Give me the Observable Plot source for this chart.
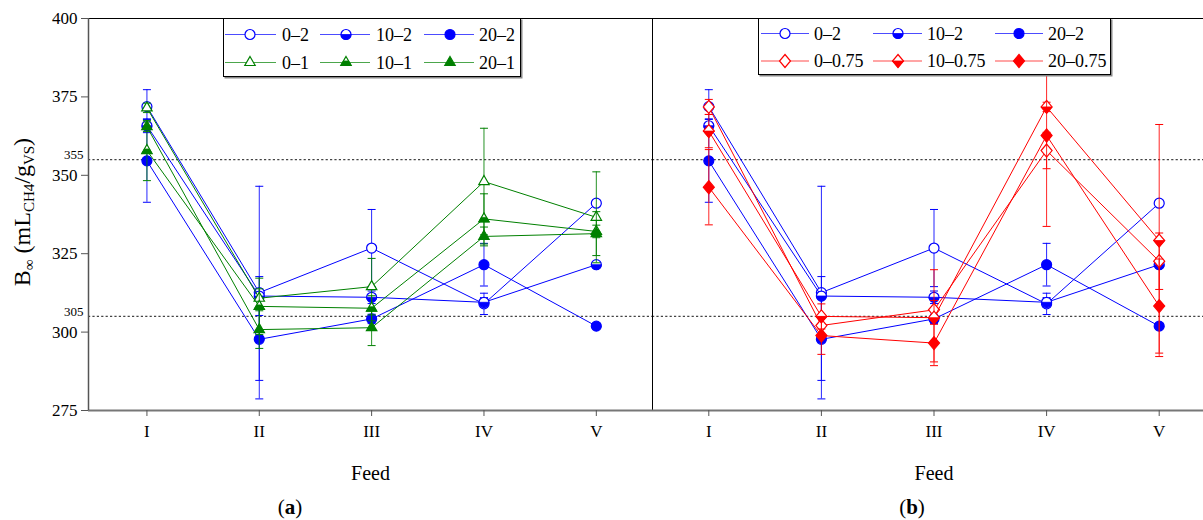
<!DOCTYPE html>
<html><head><meta charset="utf-8">
<script src="https://cdn.jsdelivr.net/npm/d3@7"></script>
<script src="https://cdn.jsdelivr.net/npm/@observablehq/plot@0.6"></script>
<style>
html,body{margin:0;padding:0;background:#fff;overflow:hidden;}
#wrap{position:relative;width:1203px;height:520px;overflow:hidden;font-family:"Liberation Serif",serif;}
#wrap > svg{position:absolute;top:0;}
</style></head>
<body><div id="wrap"></div>
<script>
// ---------- data ----------
const feeds = ["I","II","III","IV","V"];
const feedIdx = [1,2,3,4,5];
const refLines = [305, 355];
const yTicks = [275, 300, 325, 350, 375, 400];

// blue series (both panels)
const v0_2  = [371.9, 312.6, 326.8, 309.0, 341.1];
const e0_2  = [5.4, 33.9, 12.3, 3.4, 1.0];
const v10_2 = [365.8, 311.5, 311.1, 309.5, 321.5];
const e10_2 = [2.2, 6.2, 2.0, 1.5, 1.0];
const v20_2 = [354.6, 297.7, 304.2, 321.5, 301.9];
const e20_2 = [13.2, 13.1, 1.5, 6.8, 0.8];
// green series (panel a)
const v0_1  = [371.5, 310.8, 314.5, 348.0, 336.6];
const e0_1  = [1.5, 3.0, 9.0, 17.0, 14.5];
const v10_1 = [357.9, 308.2, 307.6, 336.1, 332.1];
const e10_1 = [9.6, 9.0, 4.0, 8.0, 2.0];
const v20_1 = [365.5, 300.8, 301.4, 330.5, 331.4];
const e20_1 = [1.5, 6.0, 5.7, 3.0, 7.0];
// red series (panel b)
const v0_75  = [371.8, 302.1, 307.1, 357.9, 322.6];
const e0_75  = [2.4, 3.0, 3.0, 5.8, 9.0];
const v10_75 = [364.1, 305.0, 304.6, 371.8, 329.2];
const e10_75 = [5.3, 4.0, 15.3, 1.5, 37.0];
const v20_75 = [346.2, 298.9, 296.5, 362.7, 308.3];
const e20_75 = [12.0, 6.0, 6.0, 29.0, 15.0];

const BLUE = "#0000ff", GREEN = "#008000", RED = "#ff0000";

// ---------- symbols ----------
function poly(pts){return {draw(ctx,size){const r=Math.sqrt(size/Math.PI);ctx.moveTo(pts[0][0]*r,pts[0][1]*r);for(let i=1;i<pts.length;i++)ctx.lineTo(pts[i][0]*r,pts[i][1]*r);ctx.closePath();}};}
const shapes = {
  circle:{full:{draw(ctx,size){const r=Math.sqrt(size/Math.PI);ctx.moveTo(r,0);ctx.arc(0,0,r,0,2*Math.PI);ctx.closePath();}},
          half:{draw(ctx,size){const r=Math.sqrt(size/Math.PI);ctx.moveTo(r,0);ctx.arc(0,0,r,0,Math.PI);ctx.closePath();}}},
  triangle:{full:poly([[0,-1.2],[1.04,0.6],[-1.04,0.6]]), half:poly([[-0.52,-0.3],[0.52,-0.3],[1.04,0.6],[-1.04,0.6]])},
  diamond:{full:poly([[0,-1.3],[1.1,0],[0,1.3],[-1.1,0]]), half:poly([[-1.1,0],[1.1,0],[0,1.3]])}
};
const cap = {draw(ctx,size){const r=Math.sqrt(size/Math.PI);ctx.moveTo(-r,0);ctx.lineTo(r,0);}};

const blueSeries = [
  {label:"0–2", vals:v0_2, errs:e0_2, color:BLUE, shape:"circle", fill:"open"},
  {label:"10–2", vals:v10_2, errs:e10_2, color:BLUE, shape:"circle", fill:"half"},
  {label:"20–2", vals:v20_2, errs:e20_2, color:BLUE, shape:"circle", fill:"full"}];
const greenSeries = [
  {label:"0–1", vals:v0_1, errs:e0_1, color:GREEN, shape:"triangle", fill:"open"},
  {label:"10–1", vals:v10_1, errs:e10_1, color:GREEN, shape:"triangle", fill:"half"},
  {label:"20–1", vals:v20_1, errs:e20_1, color:GREEN, shape:"triangle", fill:"full"}];
const redSeries = [
  {label:"0–0.75", vals:v0_75, errs:e0_75, color:RED, shape:"diamond", fill:"open"},
  {label:"10–0.75", vals:v10_75, errs:e10_75, color:RED, shape:"diamond", fill:"half"},
  {label:"20–0.75", vals:v20_75, errs:e20_75, color:RED, shape:"diamond", fill:"full"}];

function rows(s){return s.vals.map((v,i)=>({x:feedIdx[i], v, lo:v-s.errs[i], hi:v+s.errs[i]}));}
const R = 5;
function seriesMarks(s){
  const d = rows(s), sh = shapes[s.shape];
  const m = [
    Plot.ruleX(d,{x:"x",y1:"lo",y2:"hi",stroke:s.color,strokeWidth:1,strokeOpacity:0.85}),
    Plot.dot(d,{x:"x",y:"lo",symbol:cap,r:4,stroke:s.color,fill:"none",strokeWidth:1}),
    Plot.dot(d,{x:"x",y:"hi",symbol:cap,r:4,stroke:s.color,fill:"none",strokeWidth:1}),
    Plot.line(d,{x:"x",y:"v",stroke:s.color,strokeWidth:1})
  ];
  if (s.fill==="open") m.push(Plot.dot(d,{x:"x",y:"v",symbol:sh.full,r:R,fill:"white",stroke:s.color,strokeWidth:1.2}));
  else if (s.fill==="half"){
    m.push(Plot.dot(d,{x:"x",y:"v",symbol:sh.full,r:R,fill:"white",stroke:s.color,strokeWidth:1.2}));
    m.push(Plot.dot(d,{x:"x",y:"v",symbol:sh.half,r:R,fill:s.color,stroke:s.color,strokeWidth:0.8}));
  } else m.push(Plot.dot(d,{x:"x",y:"v",symbol:sh.full,r:R,fill:s.color,stroke:s.color,strokeWidth:1.2}));
  return m;
}

const FONT = "'Liberation Serif', serif";
function commonMarks(){
  return [
    Plot.ruleY(refLines,{stroke:"#444",strokeDasharray:"2.2,2.2",strokeWidth:1.4}),
  ];
}
function frameMarks(){
  return [
    Plot.frame({stroke:"#000",strokeWidth:1}),
    Plot.ruleY([275],{stroke:"#777",strokeWidth:2}),
    Plot.axisX({ticks:feedIdx, tickFormat:i=>feeds[i-1], tickSize:6, tickPadding:8, label:null, stroke:"#555"}),
    Plot.text(["Feed"],{text:d=>d, frameAnchor:"bottom", dy:69, fontSize:20})
  ];
}

const plotA = Plot.plot({
  width:652, height:520, marginLeft:88, marginRight:0, marginTop:18, marginBottom:110,
  x:{domain:[0.48,5.5]}, y:{domain:[275,400]},
  style:{fontFamily:FONT, fontSize:"17px", color:"#000", background:"transparent", overflow:"visible"},
  marks:[
    ...commonMarks(),
    Plot.text(refLines,{y:d=>d, text:d=>String(d), frameAnchor:"left", textAnchor:"end", dx:-5, dy:-5, fontSize:13}),
    ...blueSeries.flatMap(seriesMarks),
    ...greenSeries.flatMap(seriesMarks),
    ...frameMarks(),
    Plot.ruleX([0.48],{stroke:"#555",strokeWidth:1.5}),
    Plot.axisY({ticks:yTicks, tickSize:7, tickPadding:4, label:null, tickFormat:d=>String(d), stroke:"#555"})
  ]
});

const plotB = Plot.plot({
  width:563, height:520, marginLeft:0, marginRight:0, marginTop:18, marginBottom:110,
  x:{domain:[0.5,5.5]}, y:{domain:[275,400], axis:null},
  style:{fontFamily:FONT, fontSize:"17px", color:"#000", background:"transparent", overflow:"visible"},
  marks:[
    ...commonMarks(),
    ...blueSeries.flatMap(seriesMarks),
    ...redSeries.flatMap(seriesMarks),
    ...frameMarks()
  ]
});

const wrap = document.getElementById("wrap");
plotA.style.left = "0px"; plotB.style.left = "652px";
wrap.appendChild(plotA); wrap.appendChild(plotB);

// y-axis title with subscripts
const yt = d3.select(plotA).append("text").attr("transform","translate(30,212) rotate(-90)")
  .attr("text-anchor","middle").attr("font-size",24).attr("font-family",FONT).attr("fill","#000");
yt.append("tspan").text("B");
yt.append("tspan").attr("font-size",15).attr("dy",4).text("∞");
yt.append("tspan").attr("dy",-4).text(" (mL");
yt.append("tspan").attr("font-size",15).attr("dy",4).text("CH4");
yt.append("tspan").attr("dy",-4).text("/g");
yt.append("tspan").attr("font-size",15).attr("dy",4).text("VS");
yt.append("tspan").attr("dy",-4).text(")");

// panel captions
function caption(svg, x, letter){
  const t = d3.select(svg).append("text").attr("x",x).attr("y",514).attr("text-anchor","middle")
    .attr("font-size",21).attr("font-family",FONT).attr("fill","#000");
  t.append("tspan").text("(");
  t.append("tspan").attr("font-weight","bold").text(letter);
  t.append("tspan").text(")");
}
caption(plotA, 290, "a");
caption(plotB, 260, "b");

// legends
function legend(series, box, cols, rowsY){
  const svg = d3.create("svg").attr("width",box.w+3).attr("height",box.h+3)
    .style("position","absolute").style("left",box.x+"px").style("top",box.y+"px");
  svg.append("rect").attr("x",1.5).attr("y",1.5).attr("width",box.w).attr("height",box.h).attr("fill","#888");
  svg.append("rect").attr("x",0.5).attr("y",0.5).attr("width",box.w-1).attr("height",box.h-1).attr("fill","#fff").attr("stroke","#000");
  series.forEach((s,k)=>{
    const c = cols[k%3], y = rowsY[Math.floor(k/3)];
    svg.append("line").attr("x1",c.l1).attr("x2",c.l2).attr("y1",y).attr("y2",y).attr("stroke",s.color).attr("stroke-opacity",0.7).attr("stroke-width",1.2);
    const sh = shapes[s.shape], size = R*R*Math.PI;
    const g = svg.append("g").attr("transform",`translate(${c.m},${y})`);
    g.append("path").attr("d",d3.symbol(sh.full,size)()).attr("fill",s.fill==="full"?s.color:"#fff").attr("stroke",s.color).attr("stroke-width",1.2);
    if (s.fill==="half") g.append("path").attr("d",d3.symbol(sh.half,size)()).attr("fill",s.color).attr("stroke",s.color).attr("stroke-width",0.8);
    svg.append("text").attr("x",c.t).attr("y",y).attr("dy","0.35em").attr("font-size",18).attr("font-family",FONT).attr("fill","#000").text(s.label);
  });
  return svg.node();
}
wrap.appendChild(legend([...blueSeries,...greenSeries], {x:223,y:18,w:298,h:59},
  [{l1:2,l2:53,m:27,t:59},{l1:97,l2:147,m:123,t:153},{l1:201,l2:251,m:227,t:256}], [16.5,44.5]));
wrap.appendChild(legend([...blueSeries,...redSeries], {x:758,y:18,w:353,h:57},
  [{l1:3,l2:51,m:27,t:56},{l1:115,l2:164,m:140,t:169},{l1:237,l2:285,m:261,t:290}], [15.5,43]));
</script>
</body></html>
